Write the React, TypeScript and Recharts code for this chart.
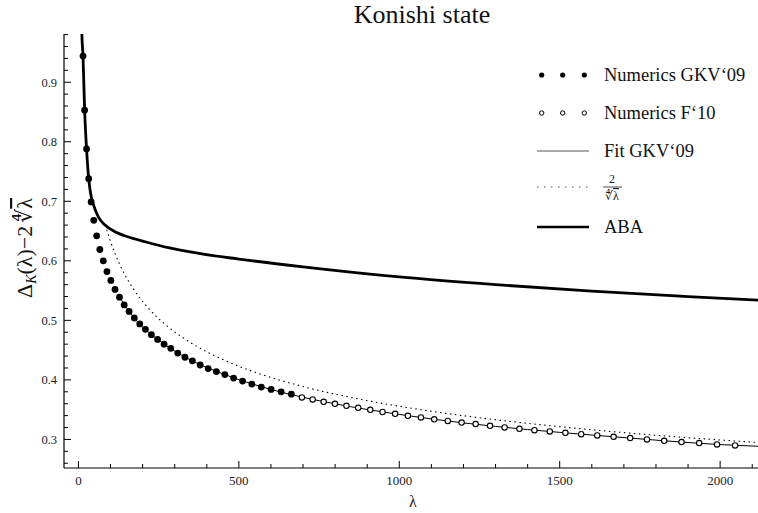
import React from 'react';
import { ComposedChart, Line, Scatter, XAxis, YAxis, Legend } from 'recharts';

// tick positions (minor ticks included; labels only on the major ones)
const xTicks = [0, 100, 200, 300, 400, 500, 600, 700, 800, 900, 1000, 1100, 1200, 1300, 1400, 1500, 1600, 1700, 1800, 1900, 2000, 2100];
const yTicks = [0.26, 0.28, 0.3, 0.32, 0.34, 0.36, 0.38, 0.4, 0.42, 0.44, 0.46, 0.48, 0.5, 0.52, 0.54, 0.56, 0.58, 0.6, 0.62, 0.64, 0.66, 0.68, 0.7, 0.72, 0.74, 0.76, 0.78, 0.8, 0.82, 0.84, 0.86, 0.88, 0.9, 0.92, 0.94, 0.96, 0.98];

// Numerics GKV'09 (filled dots)
const gkvLambda = [14.2, 19.3, 25.3, 32.0, 39.5, 47.8, 56.8, 66.7, 77.4, 88.8, 101.1, 114.1, 127.9, 142.5, 157.9, 174.1, 191.1, 208.8, 227.4, 246.7, 266.9, 287.8, 309.5, 332.0, 355.3, 379.4, 404.3, 430.0, 456.3, 483.6, 511.6, 540.4, 570.0, 600.5, 631.7, 663.6];
const gkvValue = [0.944, 0.853, 0.788, 0.738, 0.699, 0.668, 0.642, 0.619, 0.6, 0.582, 0.567, 0.552, 0.539, 0.526, 0.515, 0.504, 0.494, 0.485, 0.476, 0.468, 0.46, 0.453, 0.445, 0.438, 0.432, 0.425, 0.419, 0.414, 0.409, 0.403, 0.398, 0.393, 0.388, 0.384, 0.38, 0.376];

// Numerics F'10 (open circles)
const f10Lambda = [696.4, 730.0, 764.3, 799.4, 835.3, 872.0, 909.5, 947.8, 987.0, 1026.8, 1067.5, 1108.9, 1151.1, 1194.2, 1238.0, 1282.7, 1328.2, 1374.4, 1421.2, 1469.0, 1517.6, 1567.0, 1617.0, 1668.0, 1719.7, 1772.0, 1825.6, 1879.7, 1934.6, 1990.3, 2046.6];
const f10Value = [0.3706, 0.3672, 0.3632, 0.3598, 0.3565, 0.3531, 0.3497, 0.3461, 0.343, 0.3397, 0.337, 0.3338, 0.331, 0.3283, 0.3257, 0.3229, 0.3202, 0.3178, 0.3156, 0.3134, 0.3111, 0.3089, 0.3067, 0.3043, 0.3022, 0.3, 0.2976, 0.2955, 0.2938, 0.2916, 0.2899];

// Fit GKV'09 (thin line)
const fitLambda = [128, 174, 247, 333, 456, 600, 800, 1000, 1200, 1400, 1600, 1800, 2000, 2118];
const fitValue = [0.539, 0.504, 0.468, 0.438, 0.409, 0.384, 0.3598, 0.342, 0.3277, 0.3166, 0.3074, 0.2988, 0.2913, 0.2885];

// 2 / lambda^(1/4) (dotted line)
const invLambda = [88, 100, 130, 170, 220, 280, 350, 450, 550, 700, 850, 1000, 1200, 1400, 1600, 1800, 2000, 2118];
const invValue = [0.6525, 0.6325, 0.5923, 0.5539, 0.5193, 0.4889, 0.4624, 0.4342, 0.413, 0.3888, 0.3704, 0.3557, 0.3398, 0.327, 0.3162, 0.307, 0.2991, 0.2948];

// ABA (thick line)
const abaLambda = [9, 10.5, 14.2, 19.3, 25.3, 32, 38, 47, 62, 83, 114, 156, 208, 280, 380, 500, 700, 1000, 1300, 1600, 1900, 2118];
const abaValue = [1.03, 0.985, 0.944, 0.853, 0.788, 0.738, 0.713, 0.694, 0.674, 0.66, 0.649, 0.64, 0.632, 0.622, 0.612, 0.603, 0.59, 0.573, 0.56, 0.549, 0.54, 0.534];

const legendItems = ['Numerics GKV‘09', 'Numerics F‘10', 'Fit GKV‘09', '2/∜λ', 'ABA'];

const X_DOMAIN: [number, number] = [-45, 2118];
const Y_DOMAIN: [number, number] = [0.252, 0.981];
const FONT = "'Liberation Serif', 'Times New Roman', serif";
const serif = { fontFamily: FONT };

const toPoints = (xs: number[], ys: number[]) => xs.map((x, i) => ({ x, y: ys[i] }));

const gkvData = toPoints(gkvLambda, gkvValue);
const f10Data = toPoints(f10Lambda, f10Value);
const fitData = toPoints(fitLambda, fitValue);
const invData = toPoints(invLambda, invValue);
const abaData = toPoints(abaLambda, abaValue);

const BottomTick = (props: any) => {
  const { x, y, payload } = props;
  const v = payload.value;
  const major = v % 500 === 0;
  return (
    <g>
      <line x1={x} x2={x} y1={y} y2={y - (major ? 7 : 4)} stroke="#000" strokeWidth={1} />
      {major && (
        <text x={x} y={y + 17} textAnchor="middle" fontSize={13} style={serif} fill="#222">
          {String(v)}
        </text>
      )}
    </g>
  );
};

const TopTick = (props: any) => {
  const { x, y, payload } = props;
  const major = payload.value % 500 === 0;
  return <line x1={x} x2={x} y1={y} y2={y + (major ? 7 : 4)} stroke="#000" strokeWidth={1} />;
};

const LeftTick = (props: any) => {
  const { x, y, payload } = props;
  const v = payload.value;
  const major = Math.abs(v * 10 - Math.round(v * 10)) < 1e-6;
  return (
    <g>
      <line x1={x} x2={x + (major ? 7 : 4)} y1={y} y2={y} stroke="#000" strokeWidth={1} />
      {major && (
        <text x={x - 7} y={y + 4.5} textAnchor="end" fontSize={12.5} style={serif} fill="#222">
          {v.toFixed(1)}
        </text>
      )}
    </g>
  );
};

const XLabel = () => (
  <text x={413} y={507} textAnchor="middle" fontSize={16} style={serif} fill="#222">
    λ
  </text>
);

// y-axis label plus the plot title
const YLabel = () => (
  <g>
    <text x={422} y={23} textAnchor="middle" fontSize={26} style={serif} fill="#111">
      Konishi state
    </text>
    <g transform="translate(32,248) rotate(-90)">
      <text x={0} y={0} textAnchor="middle" fontSize={22} style={serif} fill="#111">
        Δ
        <tspan fontSize={14} fontStyle="italic" dy={4}>K</tspan>
        <tspan dy={-4}>(λ)−2</tspan>
        <tspan dx={3}>∜</tspan>
        <tspan textDecoration="overline">λ</tspan>
      </text>
    </g>
  </g>
);

const dotXs = [11.7, 32.7, 54.3];
const rowYs = [20, 58, 96, 132, 172];

const LegendBox = () => (
  <svg width={228} height={190} style={{ overflow: 'visible' }}>
    {dotXs.map((cx) => <circle key={'f' + cx} cx={cx} cy={rowYs[0]} r={2.6} fill="#000" />)}
    {dotXs.map((cx) => <circle key={'o' + cx} cx={cx} cy={rowYs[1]} r={2.2} fill="#fff" stroke="#000" strokeWidth={1} />)}
    <line x1={7} x2={59} y1={rowYs[2]} y2={rowYs[2]} stroke="#555" strokeWidth={1} />
    <line x1={7} x2={59} y1={rowYs[3]} y2={rowYs[3]} stroke="#444" strokeWidth={1} strokeDasharray="1.5 5.5" />
    <line x1={7} x2={59} y1={rowYs[4]} y2={rowYs[4]} stroke="#000" strokeWidth={2.6} />
    {[0, 1, 2, 4].map((i) => (
      <text key={i} x={74} y={rowYs[i] + 6} fontSize={18.5} style={serif} fill="#111">
        {legendItems[i]}
      </text>
    ))}
    <text x={82} y={rowYs[3] - 4} textAnchor="middle" fontSize={12} style={serif} fill="#222">2</text>
    <line x1={73} x2={92} y1={rowYs[3]} y2={rowYs[3]} stroke="#222" strokeWidth={0.8} />
    <text x={82} y={rowYs[3] + 13} textAnchor="middle" fontSize={12} style={serif} fill="#222">
      ∜<tspan textDecoration="overline">λ</tspan>
    </text>
  </svg>
);

const FilledDot = (props: any) => <circle cx={props.cx} cy={props.cy} r={3.4} fill="#000" />;
const OpenDot = (props: any) => (
  <circle cx={props.cx} cy={props.cy} r={2.7} fill="#fff" stroke="#000" strokeWidth={1.1} />
);

export default function App() {
  return (
    <div style={{ position: 'absolute', left: 0, top: 0, background: '#fff' }}>
      <ComposedChart width={758} height={513} margin={{ top: 34, right: 0, bottom: 15, left: 4 }}>
        <XAxis
          dataKey="x"
          type="number"
          domain={X_DOMAIN}
          ticks={xTicks}
          interval={0}
          tick={<BottomTick />}
          tickSize={0}
          tickMargin={0}
          height={30}
          allowDataOverflow
          axisLine={{ stroke: '#000', strokeWidth: 1.2 }}
          label={<XLabel />}
        />
        <XAxis
          xAxisId="top"
          orientation="top"
          type="number"
          domain={X_DOMAIN}
          ticks={xTicks}
          interval={0}
          tick={<TopTick />}
          tickSize={0}
          tickMargin={0}
          height={0}
          allowDataOverflow
          axisLine={{ stroke: '#000', strokeWidth: 1.2 }}
        />
        <YAxis
          dataKey="y"
          type="number"
          domain={Y_DOMAIN}
          ticks={yTicks}
          interval={0}
          tick={<LeftTick />}
          tickSize={0}
          tickMargin={0}
          width={60}
          allowDataOverflow
          axisLine={{ stroke: '#000', strokeWidth: 1.2 }}
          label={<YLabel />}
        />
        <Legend
          layout="vertical"
          align="center"
          verticalAlign="middle"
          content={<LegendBox />}
          wrapperStyle={{ left: 530, top: 55, width: 228, height: 190 }}
        />
        <Line data={invData} dataKey="y" type="monotone" stroke="#000" strokeWidth={1.1} strokeDasharray="1.5 3.5" dot={false} activeDot={false} isAnimationActive={false} />
        <Line data={fitData} dataKey="y" type="monotone" stroke="#000" strokeWidth={1} dot={false} activeDot={false} isAnimationActive={false} />
        <Line data={abaData} dataKey="y" type="monotone" stroke="#000" strokeWidth={2.8} dot={false} activeDot={false} isAnimationActive={false} />
        <Scatter data={gkvData} dataKey="y" shape={<FilledDot />} isAnimationActive={false} />
        <Scatter data={f10Data} dataKey="y" shape={<OpenDot />} isAnimationActive={false} />
      </ComposedChart>
    </div>
  );
}
